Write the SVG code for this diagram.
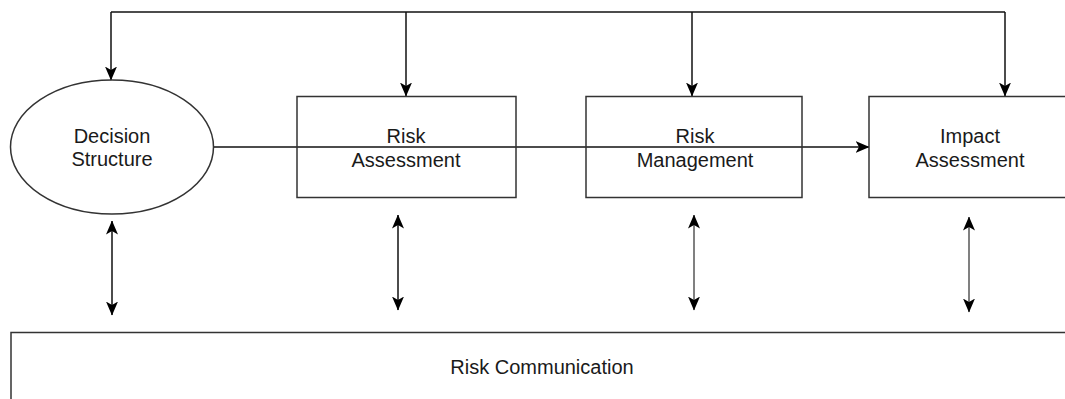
<svg xmlns="http://www.w3.org/2000/svg" width="1065" height="399" viewBox="0 0 1065 399">
<style>
.shape{fill:#ffffff;stroke:#333333;stroke-width:1.5}
.conn{fill:none;stroke:#111111;stroke-width:1.5}
.gray{stroke:#808080;stroke-width:2}
text{font-family:"Liberation Sans",Arial,sans-serif;font-size:20px;fill:#1a1a1a;text-anchor:middle}
</style>
<defs>
<marker id="ah" viewBox="0 0 14 14" refX="13.5" refY="7" markerWidth="14" markerHeight="14" markerUnits="userSpaceOnUse" orient="auto-start-reverse">
<path d="M0,1 L14,7 L0,13 L3.5,7 Z" fill="#000000"/>
</marker>
</defs>
<rect width="1065" height="399" fill="#ffffff"/>
<g id="connectors">
<path class="conn" d="M111,12 H1005"/>
<path class="conn" d="M111,12 V80" marker-end="url(#ah)"/>
<path class="conn" d="M406,12 V96" marker-end="url(#ah)"/>
<path class="conn" d="M692,12 V96" marker-end="url(#ah)"/>
<path class="conn" d="M1005,12 V96" marker-end="url(#ah)"/>
<path class="conn" d="M213,147 H869" marker-end="url(#ah)"/>
<path class="conn" d="M112,221 V315" marker-start="url(#ah)" marker-end="url(#ah)"/>
<path class="conn" d="M398,215 V310" marker-start="url(#ah)" marker-end="url(#ah)"/>
<path class="conn gray" d="M694,215 V310" marker-start="url(#ah)" marker-end="url(#ah)"/>
<path class="conn gray" d="M969,217 V312" marker-start="url(#ah)" marker-end="url(#ah)"/>
</g>
<g id="decision-structure">
<ellipse class="shape" cx="112" cy="147" rx="101.5" ry="67" style="fill:none"/>
<text x="112" y="143">Decision</text>
<text x="112" y="166">Structure</text>
</g>
<g id="risk-assessment">
<rect class="shape" x="297" y="96.5" width="219" height="101" style="fill:none"/>
<text x="406" y="143">Risk</text>
<text x="406" y="167">Assessment</text>
</g>
<g id="risk-management">
<rect class="shape" x="586" y="96.5" width="216" height="101" style="fill:none"/>
<text x="695" y="143">Risk</text>
<text x="695" y="167">Management</text>
</g>
<g id="impact-assessment">
<rect class="shape" x="869" y="96.5" width="220" height="101"/>
<text x="970" y="143">Impact</text>
<text x="970" y="167">Assessment</text>
</g>
<g id="risk-communication">
<rect class="shape" x="11" y="332.5" width="1080" height="100"/>
<text x="542" y="374">Risk Communication</text>
</g>
</svg>
